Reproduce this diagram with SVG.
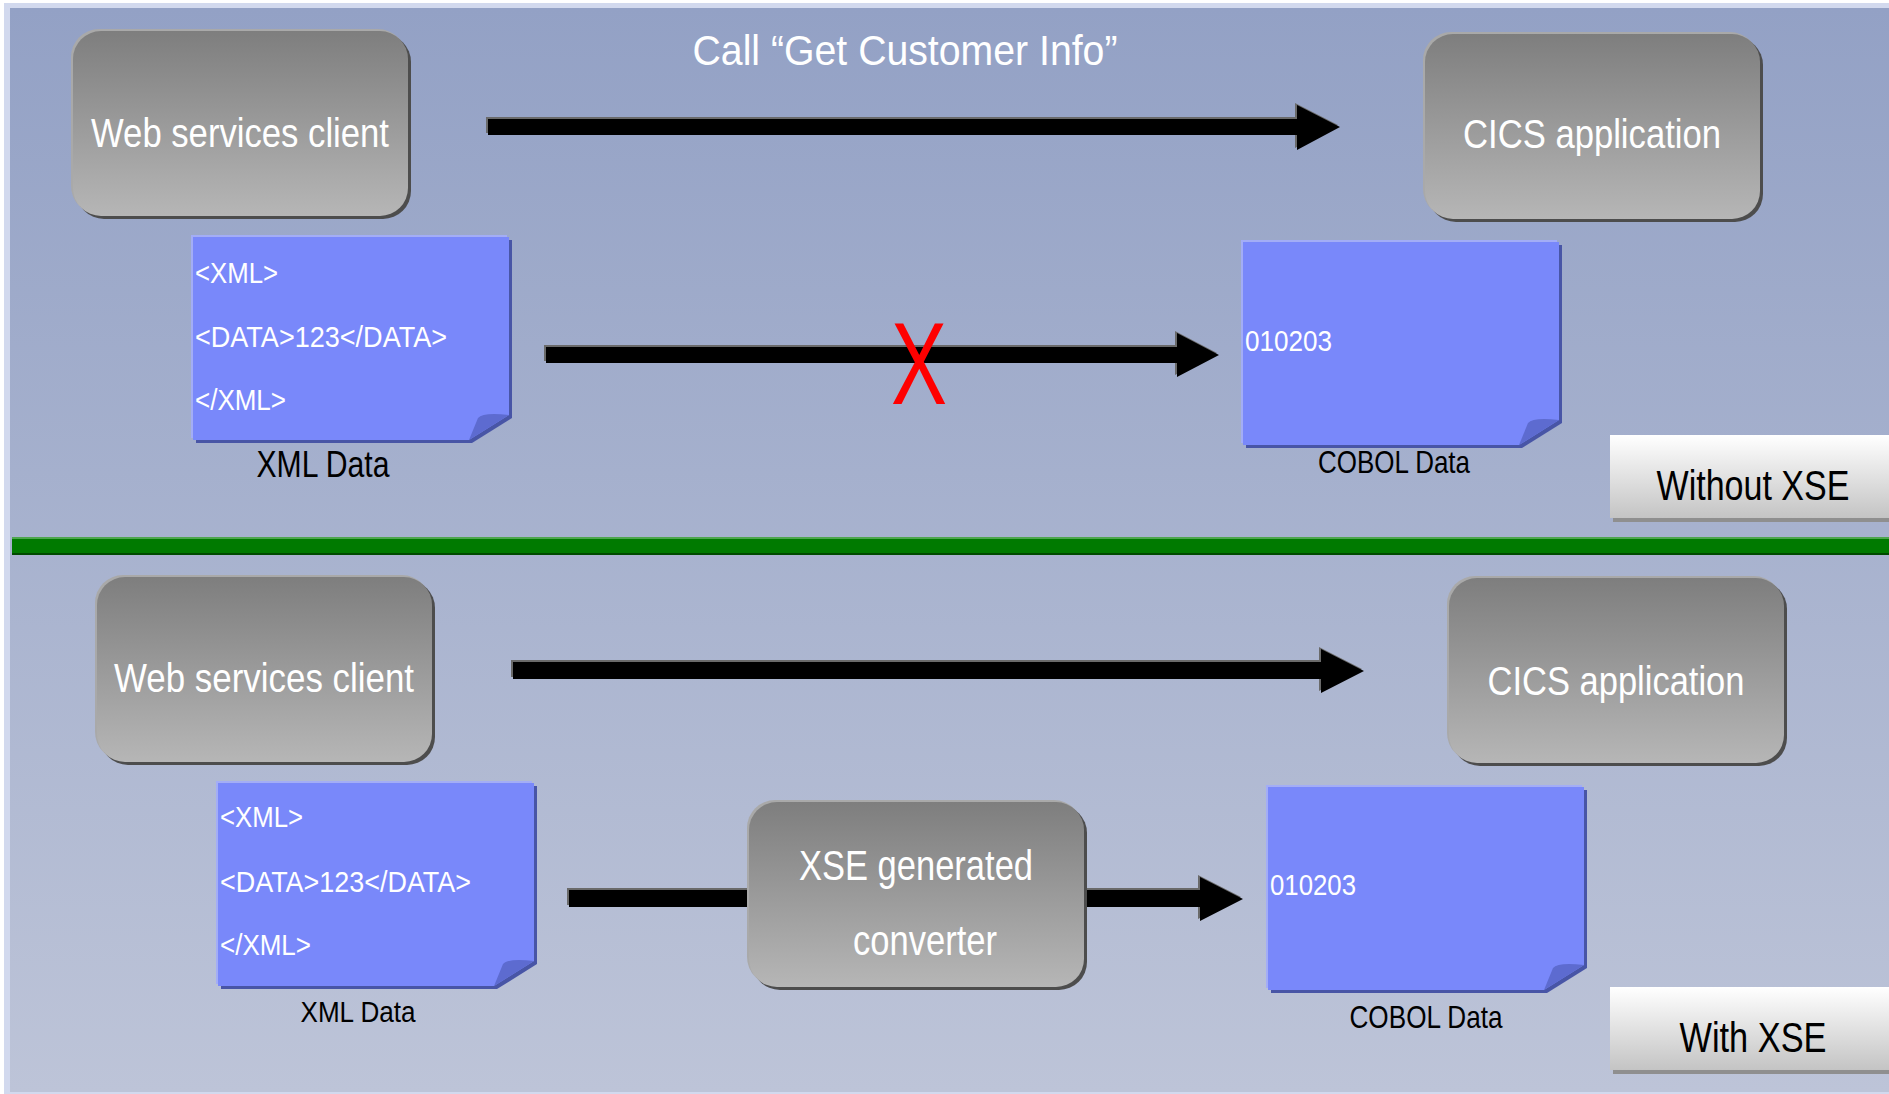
<svg xmlns="http://www.w3.org/2000/svg" width="1889" height="1094" viewBox="0 0 1889 1094">
<style>
.lbl{font-family:"Liberation Sans",Arial,sans-serif;fill:#fff;}
.blk{font-family:"Liberation Sans",Arial,sans-serif;fill:#000;}
.nt{font-family:"Liberation Sans",Arial,sans-serif;fill:#fff;font-size:29px;}
</style>
<defs>
<linearGradient id="bg" x1="0" y1="0" x2="0" y2="1">
<stop offset="0" stop-color="#93a1c5"/>
<stop offset="1" stop-color="#bdc4d8"/>
</linearGradient>
<linearGradient id="gbox" x1="0" y1="0" x2="0" y2="1">
<stop offset="0" stop-color="#7e7e7e"/>
<stop offset="1" stop-color="#b6b6b6"/>
</linearGradient>
<linearGradient id="gtab" x1="0" y1="0" x2="0" y2="1">
<stop offset="0" stop-color="#ffffff"/>
<stop offset="1" stop-color="#c4c4c4"/>
</linearGradient>
<g id="box">
<rect x="-2" y="-2" width="335" height="185" rx="28" fill="#a9a9a9"/>
<rect x="3" y="3" width="335" height="185" rx="28" fill="#4d4d4d"/>
<rect x="0" y="0" width="335" height="185" rx="28" fill="url(#gbox)"/>
</g>
<g id="note">
<path d="M-2,-2 H314 V176 L274,201 H-2 Z" fill="#a3adf6"/>
<path d="M3,3 H319 V181 L279,206 H3 Z" fill="#4855a6"/>
<path d="M0,0 H316 V178 L276,203 H0 Z" fill="#7988fa"/>
<path d="M276,203 L285,181 Q290,175 316,178 Z" fill="#5d6bd0"/>
</g>
</defs>
<rect x="0" y="0" width="1889" height="1094" fill="#ffffff"/>
<rect x="4" y="3" width="1885" height="1091" fill="#d2d9ee"/>
<rect x="10" y="8" width="1879" height="1084" fill="url(#bg)"/>
<g id="divider">
<rect x="12" y="537" width="1877" height="18" fill="#007a00"/>
<rect x="12" y="537" width="1877" height="2" fill="#4ea64e"/>
<rect x="12" y="553" width="1877" height="2" fill="#004a00"/>
</g>
<text class="lbl" x="905" y="65" font-size="42" text-anchor="middle" textLength="425" lengthAdjust="spacingAndGlyphs">Call “Get Customer Info”</text>
<g id="connectors">
<g fill="#6a6a6a" transform="translate(-2,-2)">
<path d="M488,119 H1297 V105 L1340,127 L1297,150 V135 H488 Z"/>
<path d="M546,347 H1177 V333 L1219,355 L1177,377 V363 H546 Z"/>
<path d="M513,662 H1321 V649 L1364,671 L1321,693 V679 H513 Z"/>
<path d="M569,890 H1200 V877 L1243,899 L1200,921 V907 H569 Z"/>
</g>
<g fill="#000">
<path d="M488,119 H1297 V105 L1340,127 L1297,150 V135 H488 Z"/>
<path d="M546,347 H1177 V333 L1219,355 L1177,377 V363 H546 Z"/>
<path d="M513,662 H1321 V649 L1364,671 L1321,693 V679 H513 Z"/>
<path d="M569,890 H1200 V877 L1243,899 L1200,921 V907 H569 Z"/>
</g>
<text x="919" y="404" font-family="Liberation Sans, Arial, sans-serif" font-size="116" fill="#ff0000" text-anchor="middle" textLength="56" lengthAdjust="spacingAndGlyphs">X</text>
</g>
<g id="web-client-top">
<use href="#box" x="73" y="31"/>
<text class="lbl" x="240" y="147" font-size="40" text-anchor="middle" textLength="298" lengthAdjust="spacingAndGlyphs">Web services client</text>
</g>
<g id="cics-top">
<use href="#box" x="1425" y="34"/>
<text class="lbl" x="1592" y="148" font-size="40" text-anchor="middle" textLength="258" lengthAdjust="spacingAndGlyphs">CICS application</text>
</g>
<g id="xml-data-top">
<use href="#note" x="193" y="237"/>
<text class="nt" x="195" y="283" textLength="83" lengthAdjust="spacingAndGlyphs">&lt;XML&gt;</text>
<text class="nt" x="195" y="347" textLength="252" lengthAdjust="spacingAndGlyphs">&lt;DATA&gt;123&lt;/DATA&gt;</text>
<text class="nt" x="195" y="410" textLength="91" lengthAdjust="spacingAndGlyphs">&lt;/XML&gt;</text>
<text class="blk" x="323" y="477" font-size="36" text-anchor="middle" textLength="133" lengthAdjust="spacingAndGlyphs">XML Data</text>
</g>
<g id="cobol-data-top">
<use href="#note" x="1243" y="242"/>
<text class="nt" x="1245" y="351" textLength="87" lengthAdjust="spacingAndGlyphs">010203</text>
<text class="blk" x="1394" y="473" font-size="32" text-anchor="middle" textLength="152" lengthAdjust="spacingAndGlyphs">COBOL Data</text>
</g>
<g id="tab-without">
<rect x="1613" y="438" width="276" height="84" fill="#8f8f8f"/>
<rect x="1610" y="435" width="279" height="83" fill="url(#gtab)"/>
<text class="blk" x="1753" y="500" font-size="42" text-anchor="middle" textLength="193" lengthAdjust="spacingAndGlyphs">Without XSE</text>
</g>
<g id="web-client-bottom">
<use href="#box" x="97" y="577"/>
<text class="lbl" x="264" y="692" font-size="40" text-anchor="middle" textLength="300" lengthAdjust="spacingAndGlyphs">Web services client</text>
</g>
<g id="cics-bottom">
<use href="#box" x="1449" y="578"/>
<text class="lbl" x="1616" y="695" font-size="40" text-anchor="middle" textLength="257" lengthAdjust="spacingAndGlyphs">CICS application</text>
</g>
<g id="xml-data-bottom">
<use href="#note" x="218" y="783"/>
<text class="nt" x="220" y="827" textLength="83" lengthAdjust="spacingAndGlyphs">&lt;XML&gt;</text>
<text class="nt" x="220" y="892" textLength="251" lengthAdjust="spacingAndGlyphs">&lt;DATA&gt;123&lt;/DATA&gt;</text>
<text class="nt" x="220" y="955" textLength="91" lengthAdjust="spacingAndGlyphs">&lt;/XML&gt;</text>
<text class="blk" x="358" y="1022" font-size="30" text-anchor="middle" textLength="115" lengthAdjust="spacingAndGlyphs">XML Data</text>
</g>
<g id="xse-converter">
<use href="#box" x="749" y="802"/>
<text class="lbl" x="916" y="880" font-size="42" text-anchor="middle" textLength="234" lengthAdjust="spacingAndGlyphs">XSE generated</text>
<text class="lbl" x="925" y="955" font-size="42" text-anchor="middle" textLength="144" lengthAdjust="spacingAndGlyphs">converter</text>
</g>
<g id="cobol-data-bottom">
<use href="#note" x="1268" y="787"/>
<text class="nt" x="1270" y="895" textLength="86" lengthAdjust="spacingAndGlyphs">010203</text>
<text class="blk" x="1426" y="1028" font-size="32" text-anchor="middle" textLength="153" lengthAdjust="spacingAndGlyphs">COBOL Data</text>
</g>
<g id="tab-with">
<rect x="1613" y="990" width="276" height="84" fill="#8f8f8f"/>
<rect x="1610" y="987" width="279" height="83" fill="url(#gtab)"/>
<text class="blk" x="1753" y="1052" font-size="42" text-anchor="middle" textLength="147" lengthAdjust="spacingAndGlyphs">With XSE</text>
</g>
</svg>
